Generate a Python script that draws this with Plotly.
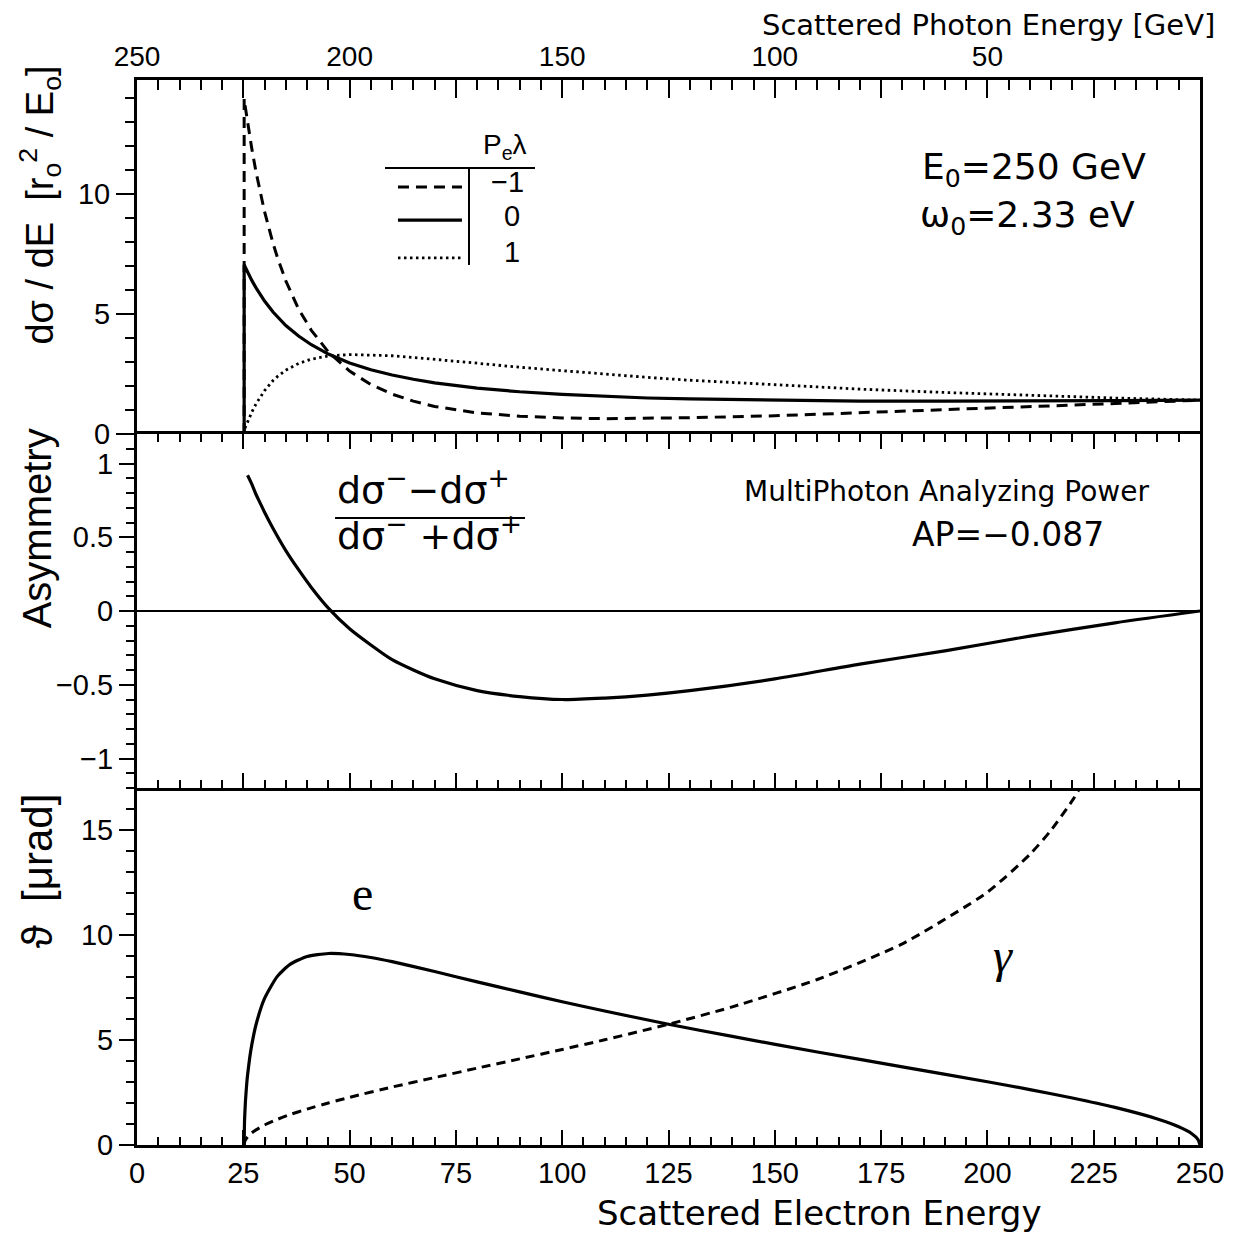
import plotly.graph_objects as go

E0 = 250.0

# ---- top panel: dsigma/dE vs scattered electron energy (photon = E0 - E) ----
E_top = [25.2, 25.2, 25.5, 26, 27, 28, 29, 30, 32, 33, 35, 38, 41, 45, 50, 55, 60, 65, 70,
         80, 90, 100, 110, 120, 130, 150, 170, 190, 210, 230, 250]
xs_m1 = [0, 13.97, 13.59, 12.99, 11.89, 10.91, 10.04, 9.26, 7.94, 7.37, 6.38, 5.21, 4.32, 3.42,
         2.62, 2.06, 1.66, 1.37, 1.15, 0.88, 0.74, 0.67, 0.64, 0.65, 0.68, 0.76, 0.88, 1.00,
         1.13, 1.27, 1.41]
xs_0 = [0, 7.05, 6.94, 6.75, 6.40, 6.09, 5.80, 5.54, 5.08, 4.88, 4.52, 4.08, 3.72, 3.33, 2.96,
        2.68, 2.46, 2.28, 2.13, 1.91, 1.76, 1.65, 1.57, 1.50, 1.46, 1.40, 1.37, 1.37, 1.37,
        1.39, 1.41]
xs_p1 = [0, 0.14, 0.29, 0.51, 0.91, 1.26, 1.56, 1.81, 2.23, 2.39, 2.66, 2.94, 3.12, 3.25, 3.31,
         3.30, 3.26, 3.19, 3.12, 2.95, 2.78, 2.63, 2.49, 2.36, 2.24, 2.04, 1.87, 1.73, 1.61,
         1.50, 1.41]
photon_top = [E0 - e for e in E_top]

# ---- middle panel: asymmetry ----
E_asym = [26, 27, 28, 29, 30, 32, 35, 38, 41, 45, 50, 55, 60, 65, 70, 80, 90, 100, 110, 120,
          130, 150, 170, 190, 210, 230, 250]
asym = [0.92, 0.86, 0.79, 0.73, 0.67, 0.56, 0.41, 0.28, 0.16, 0.02, -0.12, -0.23, -0.33, -0.40,
        -0.46, -0.54, -0.58, -0.60, -0.59, -0.57, -0.54, -0.46, -0.36, -0.27, -0.17, -0.08, 0.0]

# ---- bottom panel: scattering angles ----
E_el = [25.2, 25.3, 25.5, 25.8, 26, 26.5, 27, 28, 30, 33, 36, 40, 45, 50, 55, 60, 70, 80, 90,
        100, 110, 125, 140, 160, 180, 200, 210, 220, 230, 240, 245, 248, 249.5, 250]
theta_e = [0, 1.21, 2.07, 2.90, 3.32, 4.14, 4.78, 5.74, 6.98, 8.03, 8.60, 8.98, 9.12, 9.07, 8.93,
           8.73, 8.26, 7.77, 7.29, 6.82, 6.38, 5.75, 5.17, 4.43, 3.72, 3.01, 2.64, 2.24, 1.79,
           1.24, 0.87, 0.55, 0.27, 0]
E_ph = [25.2, 25.3, 25.5, 26, 27, 28, 30, 33, 36, 40, 45, 50, 60, 70, 80, 90, 100, 110, 125,
        140, 160, 180, 200, 210, 215, 220, 223]
theta_g = [0, 0.14, 0.24, 0.38, 0.58, 0.72, 0.95, 1.22, 1.45, 1.71, 2.00, 2.27, 2.76, 3.21, 3.66,
           4.10, 4.55, 5.01, 5.75, 6.58, 7.88, 9.58, 12.04, 13.84, 15.00, 16.41, 17.43]

bottom_ticks = [0, 25, 50, 75, 100, 125, 150, 175, 200, 225, 250]
top_tickvals = [250, 225, 200, 175, 150, 125, 100, 75, 50, 25, 0]
top_ticktext = ["250", "", "200", "", "150", "", "100", "", "50", "", ""]

SANS = "Liberation Sans"
GEO = "DejaVu Sans"
BLK = "black"

fig = go.Figure()
fig.add_trace(go.Scatter(x=photon_top, y=xs_m1, mode="lines", xaxis="x3", yaxis="y",
                         line=dict(color=BLK, width=3, dash="11px,7px")))
fig.add_trace(go.Scatter(x=photon_top, y=xs_0, mode="lines", xaxis="x3", yaxis="y",
                         line=dict(color=BLK, width=3.2)))
fig.add_trace(go.Scatter(x=photon_top, y=xs_p1, mode="lines", xaxis="x3", yaxis="y",
                         line=dict(color=BLK, width=2.8, dash="2.5px,3.5px")))
fig.add_trace(go.Scatter(x=E_asym, y=asym, mode="lines", xaxis="x2", yaxis="y2",
                         line=dict(color=BLK, width=3.2, shape="spline", smoothing=0.8)))
fig.add_trace(go.Scatter(x=E_el, y=theta_e, mode="lines", xaxis="x", yaxis="y3",
                         line=dict(color=BLK, width=3.2, shape="spline", smoothing=0.6)))
fig.add_trace(go.Scatter(x=E_ph, y=theta_g, mode="lines", xaxis="x", yaxis="y3",
                         line=dict(color=BLK, width=3, dash="9px,6px", shape="spline",
                                   smoothing=0.6)))

tickfont = dict(family=SANS, size=29, color=BLK)

def xmin(length=8):
    return dict(tickmode="linear", tick0=0, dtick=5, ticks="inside", ticklen=length,
                tickwidth=2, tickcolor=BLK)

fig.update_layout(
    width=1236, height=1244,
    margin=dict(l=129, r=44, t=72, b=107),
    paper_bgcolor="white", plot_bgcolor="white",
    showlegend=False,
    xaxis=dict(domain=[0, 1], anchor="y3", range=[0, 250], tickmode="array",
               tickvals=bottom_ticks, ticks="inside", ticklen=15, tickwidth=2, tickcolor=BLK,
               minor=xmin(8), showline=True, linewidth=3, linecolor=BLK, mirror=False,
               showgrid=False, zeroline=False, tickfont=tickfont),
    xaxis2=dict(domain=[0, 1], anchor="y2", matches="x", range=[0, 250], tickmode="array",
                tickvals=bottom_ticks, ticks="inside", ticklen=15, tickwidth=2, tickcolor=BLK,
                minor=xmin(8), showline=True, linewidth=3, linecolor=BLK, mirror="ticks",
                showticklabels=False, showgrid=False, zeroline=False),
    xaxis3=dict(domain=[0, 1], anchor="y", side="top", range=[250, 0], tickmode="array",
                tickvals=top_tickvals, ticktext=top_ticktext, ticks="inside", ticklen=18,
                tickwidth=2, tickcolor=BLK, minor=xmin(10), showline=True, linewidth=3,
                linecolor=BLK, mirror=False, showgrid=False, zeroline=False,
                tickfont=dict(family=SANS, size=28, color=BLK)),
    yaxis=dict(domain=[0.6676, 1], anchor="x3", range=[0, 14.75], tickmode="array",
               tickvals=[0, 5, 10], ticks="outside", ticklen=18, tickwidth=2, tickcolor=BLK,
               minor=dict(tickmode="linear", tick0=0, dtick=1, ticks="outside", ticklen=9,
                          tickwidth=2, tickcolor=BLK),
               showline=True, linewidth=3, linecolor=BLK, mirror=True, showgrid=False,
               zeroline=False, tickfont=tickfont),
    yaxis2=dict(domain=[0.3352, 0.6676], anchor="x2", range=[-1.2, 1.2], tickmode="array",
                tickvals=[-1, -0.5, 0, 0.5, 1], ticktext=["\u22121", "\u22120.5", "0", "0.5", "1"],
                ticks="outside", ticklen=15, tickwidth=2, tickcolor=BLK,
                minor=dict(tickmode="linear", tick0=0, dtick=0.1, ticks="outside", ticklen=8,
                           tickwidth=2, tickcolor=BLK),
                showline=True, linewidth=3, linecolor=BLK, mirror=True, showgrid=False,
                zeroline=True, zerolinecolor=BLK, zerolinewidth=1.5, tickfont=tickfont),
    yaxis3=dict(domain=[0, 0.3352], anchor="x", range=[0, 17], tickmode="array",
                tickvals=[0, 5, 10, 15], ticks="outside", ticklen=15, tickwidth=2, tickcolor=BLK,
                minor=dict(tickmode="linear", tick0=0, dtick=1, ticks="outside", ticklen=8,
                           tickwidth=2, tickcolor=BLK),
                showline=True, linewidth=3, linecolor=BLK, mirror=True, showgrid=False,
                zeroline=False, tickfont=tickfont),
)

def ann(text, x, y, size, family=GEO, xanchor="center", yanchor="middle", angle=0):
    fig.add_annotation(text=text, x=x, y=y, xref="paper", yref="paper", showarrow=False,
                       xanchor=xanchor, yanchor=yanchor, textangle=angle,
                       font=dict(family=family, size=size, color=BLK))

ann("Scattered Photon Energy [GeV]", 1.016, 1.0515, 29, xanchor="right")
ann("Scattered Electron Energy", 0.6425, -0.064, 34)
ann("d\u03c3 / dE  [r<sub>o</sub><sup>2</sup> / E<sub>o</sub>]", -0.0913, 0.883, 38, family=SANS, angle=-90)
ann("Asymmetry", -0.0941, 0.579, 40, family=SANS, angle=-90)
ann("\u03d1  [\u03bcrad]", -0.0941, 0.258, 42, family=SANS, angle=-90)

# legend block
ann("P<sub>e</sub>\u03bb", 0.3462, 0.9375, 28, family=SANS)
ann("\u22121", 0.3490, 0.9045, 29, family=SANS)
ann("0", 0.3528, 0.8725, 29, family=SANS)
ann("1", 0.3528, 0.8385, 29, family=SANS)
fig.add_shape(type="line", xref="paper", yref="paper", x0=0.2333, x1=0.3744, y0=0.9174,
              y1=0.9174, line=dict(color=BLK, width=2))
fig.add_shape(type="line", xref="paper", yref="paper", x0=0.3123, x1=0.3123, y0=0.9174,
              y1=0.8263, line=dict(color=BLK, width=2))
fig.add_shape(type="line", xref="paper", yref="paper", x0=0.2455, x1=0.3057, y0=0.8995,
              y1=0.8995, line=dict(color=BLK, width=3, dash="11px,7px"))
fig.add_shape(type="line", xref="paper", yref="paper", x0=0.2455, x1=0.3057, y0=0.8685,
              y1=0.8685, line=dict(color=BLK, width=3.2))
fig.add_shape(type="line", xref="paper", yref="paper", x0=0.2455, x1=0.3057, y0=0.8329,
              y1=0.8329, line=dict(color=BLK, width=2.8, dash="2.5px,3.5px"))

ann("E<sub>0</sub>=250 GeV", 0.7366, 0.9160, 36, xanchor="left")
ann("\u03c9<sub>0</sub>=2.33 eV", 0.7347, 0.8710, 36, xanchor="left")

# asymmetry formula
ann("d\u03c3<sup>\u2212</sup>\u2212d\u03c3<sup>+</sup>", 0.1863, 0.6175, 38, xanchor="left")
ann("d\u03c3<sup>\u2212</sup> +d\u03c3<sup>+</sup>", 0.1863, 0.5750, 38, xanchor="left")
fig.add_shape(type="line", xref="paper", yref="paper", x0=0.1863, x1=0.3650, y0=0.5887,
              y1=0.5887, line=dict(color=BLK, width=2))
ann("MultiPhoton Analyzing Power", 0.5691, 0.6140, 28, xanchor="left")
ann("AP=\u22120.087", 0.7272, 0.5735, 33, xanchor="left")

ann("e", 0.2117, 0.2366, 48, family="Liberation Serif")
ann("<i>\u03b3</i>", 0.8147, 0.1784, 48, family="Liberation Serif")

fig.write_html("out.html")
